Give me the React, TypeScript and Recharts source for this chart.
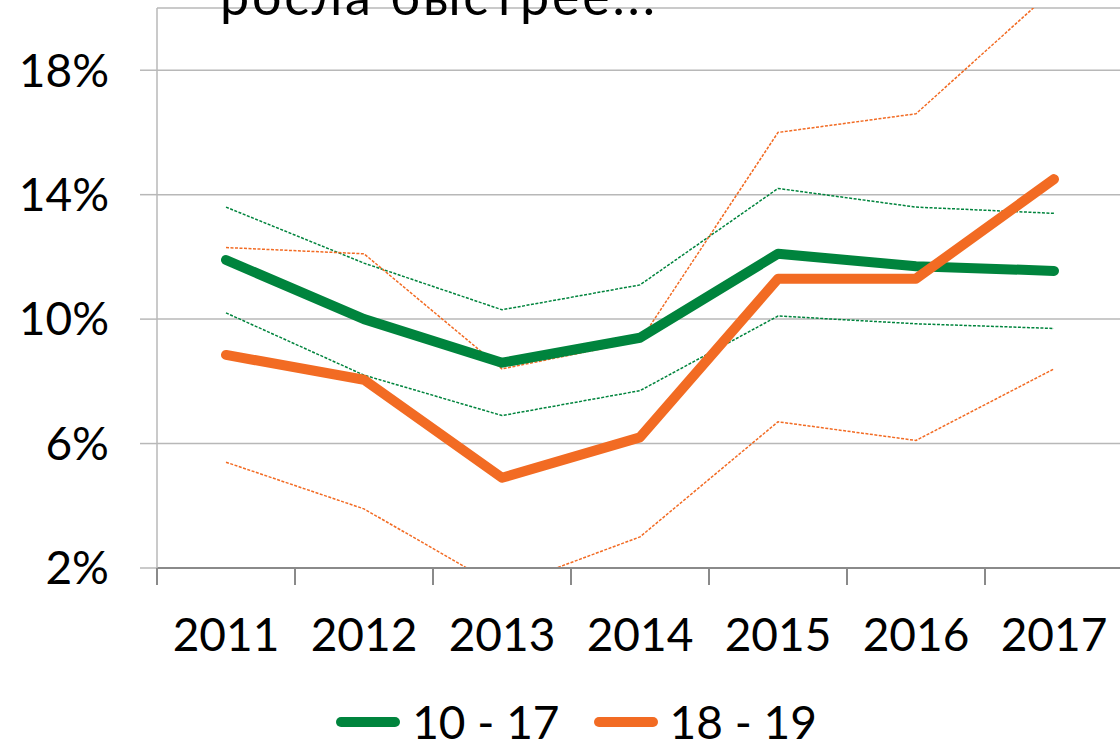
import React from 'react';
import { LineChart, Line, XAxis, YAxis, CartesianGrid, Legend } from 'recharts';

const years = ['2011', '2012', '2013', '2014', '2015', '2016', '2017'];
const teen = [11.9, 10.0, 8.6, 9.4, 12.1, 11.7, 11.55];
const teenHigh = [13.6, 11.8, 10.3, 11.1, 14.2, 13.6, 13.4];
const teenLow = [10.2, 8.2, 6.9, 7.7, 10.1, 9.85, 9.7];
const young = [8.85, 8.05, 4.9, 6.2, 11.3, 11.3, 14.5];
const youngHigh = [12.3, 12.1, 8.4, 9.3, 16.0, 16.6, 20.6];
const youngLow = [5.4, 3.9, 1.35, 3.0, 6.7, 6.1, 8.4];
const yTicks = [2, 6, 10, 14, 18];
const title = 'росла быстрее...';

const GREEN = '#00843d';
const ORANGE = '#f26b23';
const AXIS = '#8a8a8a';
const FONT = 'Lato, "Noto Sans", sans-serif';

const legendItems = [
  { name: '10 - 17', color: GREEN },
  { name: '18 - 19', color: ORANGE },
];

const data = years.map((year, i) => ({
  year,
  teen: teen[i],
  teenHigh: teenHigh[i],
  teenLow: teenLow[i],
  young: young[i],
  youngHigh: youngHigh[i],
  youngLow: youngLow[i],
}));

// year label at the band centre, tick marks on the band edges
function YearTick(props: any) {
  const { x, y, payload, index, width } = props;
  const half = (width || 966) / years.length / 2;
  return (
    <g>
      <line x1={x - half} y1={y} x2={x - half} y2={y + 17} stroke={AXIS} strokeWidth={2} />
      {index === years.length - 1 && (
        <line x1={x + half} y1={y} x2={x + half} y2={y + 17} stroke={AXIS} strokeWidth={2} />
      )}
      <text x={x} y={y + 50} dy="0.71em" textAnchor="middle" fontSize={46} fontFamily={FONT} fill="#000">
        {payload.value}
      </text>
    </g>
  );
}

function LegendBox() {
  return (
    <div
      style={{
        display: 'flex',
        justifyContent: 'center',
        alignItems: 'center',
        height: 45,
        paddingTop: 14,
        paddingLeft: 30,
        gap: 34,
        fontFamily: FONT,
        fontSize: 46,
        lineHeight: 1,
        color: '#000',
      }}
    >
      {legendItems.map(item => (
        <div key={item.name} style={{ display: 'flex', alignItems: 'center', gap: 12 }}>
          <svg width={64} height={12}>
            <line x1={5} y1={6} x2={59} y2={6} stroke={item.color} strokeWidth={10} strokeLinecap="round" />
          </svg>
          <span>{item.name}</span>
        </div>
      ))}
    </div>
  );
}

const thin = { strokeWidth: 1.5, strokeDasharray: '3 1.5', dot: false, activeDot: false, isAnimationActive: false, legendType: 'none' as const };

export default function App() {
  return (
    <div style={{ position: 'absolute', left: 0, top: 0, width: 1120, height: 744, overflow: 'hidden', background: '#fff' }}>
      <LineChart width={1140} height={744} data={data} margin={{ top: 8, right: 17, bottom: 0, left: 0 }}>
        <CartesianGrid vertical={false} stroke="#b8b8b8" strokeWidth={1.5} />
        <XAxis
          dataKey="year"
          scale="band"
          stroke={AXIS}
          strokeWidth={2}
          tickLine={false}
          tickSize={0}
          tickMargin={0}
          height={117}
          interval={0}
          tick={<YearTick />}
        />
        <YAxis
          domain={[2, 20]}
          ticks={yTicks}
          allowDataOverflow
          width={157}
          tickSize={17}
          tickMargin={31}
          tickFormatter={(v: number) => `${v}%`}
          stroke="#b8b8b8"
          strokeWidth={1.5}
          tick={{ fill: '#000', fontSize: 46, fontFamily: FONT }}
        />
        <Legend verticalAlign="bottom" content={() => <LegendBox />} />
        <Line dataKey="teenHigh" stroke={GREEN} {...thin} />
        <Line dataKey="teenLow" stroke={GREEN} {...thin} />
        <Line dataKey="youngHigh" stroke={ORANGE} {...thin} />
        <Line dataKey="youngLow" stroke={ORANGE} {...thin} />
        <Line dataKey="teen" name="10 - 17" stroke={GREEN} strokeWidth={10} strokeLinecap="round" strokeLinejoin="round" dot={false} activeDot={false} isAnimationActive={false} />
        <Line dataKey="young" name="18 - 19" stroke={ORANGE} strokeWidth={10} strokeLinecap="round" strokeLinejoin="round" dot={false} activeDot={false} isAnimationActive={false} />
      </LineChart>
      <svg style={{ position: 'absolute', left: 0, top: 0, pointerEvents: 'none' }} width={1120} height={40}>
        <text x={220} y={15} fontSize={52} letterSpacing={2.8} fontFamily={FONT} fill="#000">
          {title}
        </text>
      </svg>
    </div>
  );
}
